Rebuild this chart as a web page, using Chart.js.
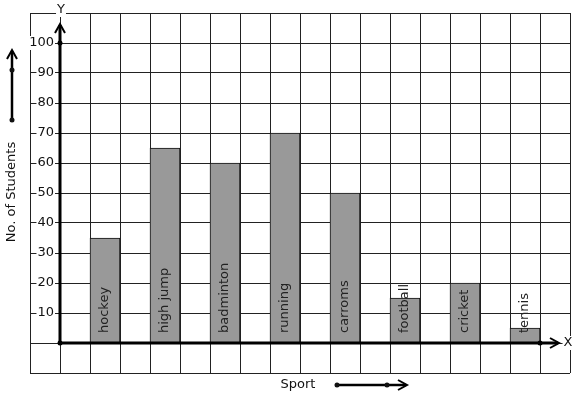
<!DOCTYPE html>
<html>
<head>
<meta charset="utf-8">
<script src="https://cdn.jsdelivr.net/npm/chart.js@4"></script>
<style>
html,body{margin:0;padding:0;background:#fff;}
#c{display:block;}
</style>
</head>
<body>
<canvas id="c" width="577" height="399"></canvas>
<script>
// ---- data ----
const sports = ['hockey','high jump','badminton','running','carroms','football','cricket','tennis'];
const students = [35, 65, 60, 70, 50, 15, 20, 5];
const yTickLabels = [10, 20, 30, 40, 50, 60, 70, 80, 90, 100];
const yAxisTitle = 'No. of Students';
const xAxisTitle = 'Sport';

// grid slots: 18 cells, bars sit in every other cell starting at slot 2
const SLOTS = 18;
const slotLabels = [];
const slotValues = [];
for (let i = 0; i < SLOTS; i++) { slotLabels.push(''); slotValues.push(null); }
sports.forEach((s, i) => { slotLabels[2 + 2 * i] = s; slotValues[2 + 2 * i] = students[i]; });

const FONT = '13px "DejaVu Sans", sans-serif';

function arrowUp(ctx, x, y) {
  ctx.beginPath();
  ctx.moveTo(x - 5, y + 9); ctx.lineTo(x, y); ctx.lineTo(x + 5, y + 9);
  ctx.stroke();
}
function arrowRight(ctx, x, y) {
  ctx.beginPath();
  ctx.moveTo(x - 9, y - 5); ctx.lineTo(x, y); ctx.lineTo(x - 9, y + 5);
  ctx.stroke();
}
function dot(ctx, x, y) {
  ctx.beginPath(); ctx.arc(x, y, 2.5, 0, Math.PI * 2); ctx.fill();
}
function boxedText(ctx, txt, x, y, align) {
  ctx.font = FONT;
  ctx.textAlign = align; ctx.textBaseline = 'middle';
  const w = ctx.measureText(txt).width;
  let x0 = align === 'right' ? x - w : (align === 'center' ? x - w / 2 : x);
  ctx.fillStyle = '#fff';
  ctx.fillRect(x0 - 1, y - 7, w + 2, 14);
  ctx.fillStyle = '#111';
  ctx.fillText(txt, x, y);
}

const deco = {
  id: 'deco',
  afterDatasetsDraw(chart) {
    const ctx = chart.ctx;
    const xs = chart.scales.x, ys = chart.scales.y;
    const y0 = ys.getPixelForValue(0);
    const x0 = xs.getPixelForValue(1) - 15; // left boundary of slot 1
    ctx.save();
    // bar labels
    const meta = chart.getDatasetMeta(0);
    ctx.font = FONT;
    ctx.fillStyle = '#222';
    ctx.textAlign = 'left'; ctx.textBaseline = 'middle';
    meta.data.forEach((el, i) => {
      if (slotValues[i] == null) return;
      ctx.save();
      ctx.translate(el.x, y0 - 10);
      ctx.rotate(-Math.PI / 2);
      ctx.fillText(slotLabels[i], 0, 0);
      ctx.restore();
    });
    // y tick labels
    yTickLabels.forEach(v => {
      boxedText(ctx, String(v), x0 - 6, ys.getPixelForValue(v), 'right');
    });
    // axes
    ctx.strokeStyle = '#000'; ctx.fillStyle = '#000';
    ctx.lineWidth = 3; ctx.lineCap = 'butt';
    ctx.beginPath(); ctx.moveTo(x0, y0); ctx.lineTo(x0, 25); ctx.stroke();
    ctx.lineWidth = 2;
    arrowUp(ctx, x0, 24);
    ctx.lineWidth = 3;
    const xEnd = 558;
    ctx.beginPath(); ctx.moveTo(x0, y0); ctx.lineTo(xEnd, y0); ctx.stroke();
    ctx.lineWidth = 2;
    arrowRight(ctx, xEnd + 1, y0);
    dot(ctx, x0, y0);
    dot(ctx, x0, ys.getPixelForValue(100));
    dot(ctx, xs.getPixelForValue(16) + 15, y0);
    boxedText(ctx, 'Y', x0 + 1, 10, 'center');
    boxedText(ctx, 'X', 568, y0, 'center');
    // side arrow
    ctx.lineWidth = 2.5;
    ctx.beginPath(); ctx.moveTo(12, 120); ctx.lineTo(12, 51); ctx.stroke();
    ctx.lineWidth = 2;
    arrowUp(ctx, 12, 50);
    dot(ctx, 12, 70); dot(ctx, 12, 120);
    // bottom arrow
    ctx.lineWidth = 2.5;
    ctx.beginPath(); ctx.moveTo(337, 385); ctx.lineTo(406, 385); ctx.stroke();
    ctx.lineWidth = 2;
    arrowRight(ctx, 407, 385);
    dot(ctx, 337, 385); dot(ctx, 387, 385);
    // titles
    ctx.font = FONT; ctx.fillStyle = '#111';
    ctx.textAlign = 'center'; ctx.textBaseline = 'middle';
    ctx.fillText(xAxisTitle, 298, 385);
    ctx.save();
    ctx.translate(12, 192); ctx.rotate(-Math.PI / 2);
    ctx.fillText(yAxisTitle, 0, 0);
    ctx.restore();
    ctx.restore();
  }
};

new Chart(document.getElementById('c'), {
  type: 'bar',
  data: {
    labels: slotLabels,
    datasets: [{
      data: slotValues,
      backgroundColor: '#999999',
      borderColor: '#111',
      borderWidth: 1,
      barPercentage: 1,
      categoryPercentage: 1
    }]
  },
  options: {
    responsive: false,
    animation: false,
    events: [],
    layout: { padding: { left: 30, right: 7, top: 13, bottom: 26 } },
    plugins: { legend: { display: false }, tooltip: { enabled: false } },
    scales: {
      x: {
        offset: true,
        grid: { offset: true, color: '#222', lineWidth: 1, drawTicks: false },
        border: { display: false },
        ticks: { display: false }
      },
      y: {
        min: -10, max: 110,
        grid: { color: '#222', lineWidth: 1, drawTicks: false },
        border: { display: false },
        ticks: { display: false, stepSize: 10 }
      }
    }
  },
  plugins: [deco]
});
</script>
</body>
</html>
